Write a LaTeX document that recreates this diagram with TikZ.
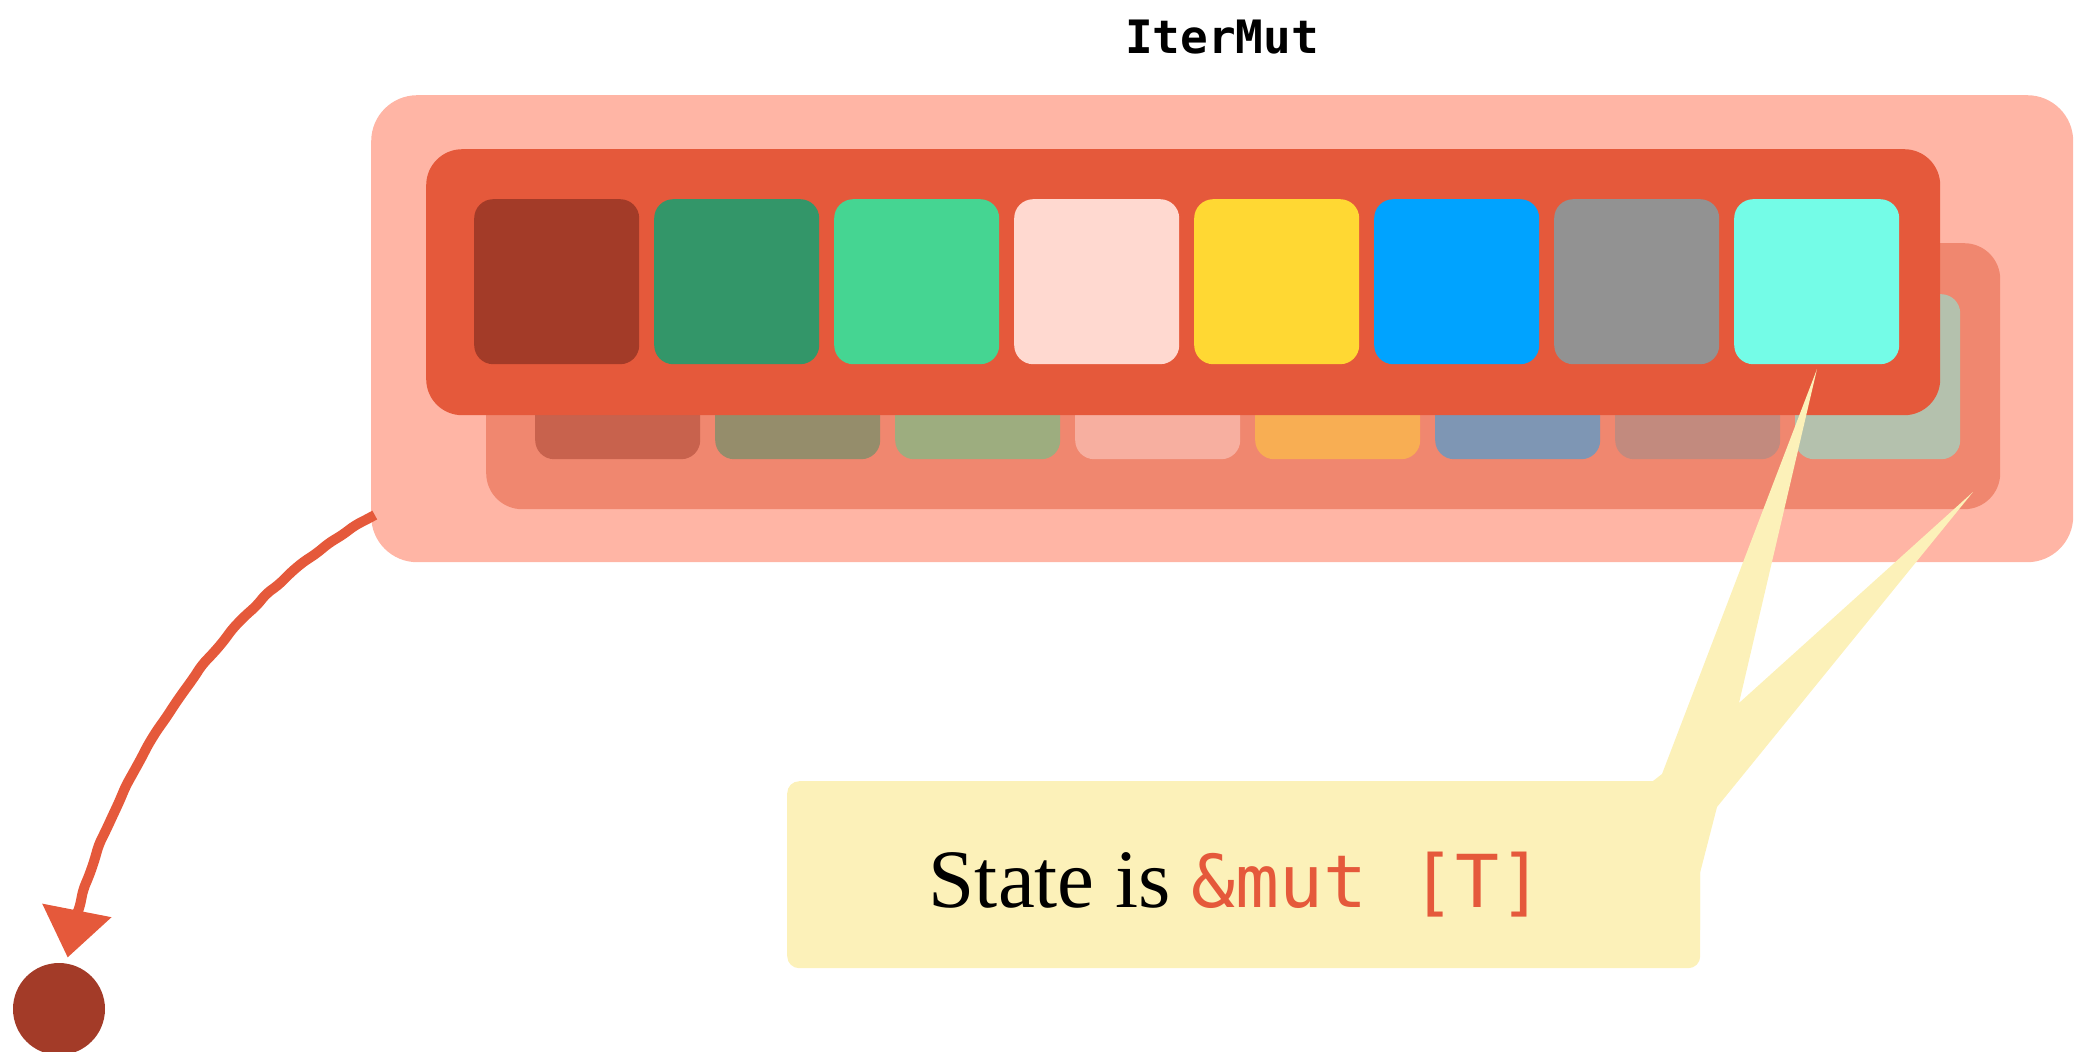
\documentclass[tikz,border=0pt]{standalone}
\usepackage{fontspec}
\setmainfont{Liberation Serif}
\setmonofont{DejaVu Sans Mono}
\usetikzlibrary{arrows.meta,decorations.pathmorphing}

\definecolor{outerbox}{HTML}{FFB5A5}
\definecolor{frontbox}{HTML}{E5593B}
\definecolor{backbox}{HTML}{F0876F}
\definecolor{notebg}{HTML}{FCF1B9}
\definecolor{blobred}{HTML}{A33B28}
% front row cells
\definecolor{fa}{HTML}{A33B28}
\definecolor{fb}{HTML}{339669}
\definecolor{fc}{HTML}{45D592}
\definecolor{fd}{HTML}{FFD9D0}
\definecolor{fe}{HTML}{FFD833}
\definecolor{ff}{HTML}{00A3FF}
\definecolor{fg}{HTML}{929292}
\definecolor{fh}{HTML}{74FCE7}
% back row cells (faded)
\definecolor{ba}{HTML}{C8624D}
\definecolor{bb}{HTML}{958D6B}
\definecolor{bc}{HTML}{9DAD7F}
\definecolor{bd}{HTML}{F7AFA0}
\definecolor{be}{HTML}{F8AE53}
\definecolor{bf}{HTML}{7E96B4}
\definecolor{bg}{HTML}{C28A7E}
\definecolor{bh}{HTML}{B4C1AD}

\begin{document}
\begin{tikzpicture}[x=1pt,y=-1pt,
  box/.style={rectangle, anchor=north west, inner sep=0pt, draw=none},
  slab/.style={box, minimum width=1514pt, minimum height=266pt, rounded corners=36pt},
  cell/.style={box, minimum width=165pt, minimum height=165pt, rounded corners=19pt},
  sketchy/.style={decorate, decoration={random steps, segment length=16pt,
    amplitude=1pt, pre length=4pt, post length=34pt}, rounded corners=6pt},
  link/.style={frontbox, line width=10pt, line cap=round, sketchy,
    -{Triangle[length=48pt,width=68pt]}, shorten >=6pt}]
\useasboundingbox (0,0) rectangle (2075,1052);

% title
\node[font=\ttfamily\bfseries\fontsize{46}{50}\selectfont, anchor=base, inner sep=0pt]
  (title) at (1222,53) {IterMut};

% container
\node[box, fill=outerbox, minimum width=1702pt, minimum height=467pt, rounded corners=46pt]
  (outer) at (371,95) {};

% back slice
\node[slab, fill=backbox] (back) at (486,243) {};
\foreach \c [count=\i from 0] in {ba,bb,bc,bd,be,bf,bg,bh}
  \node[cell, fill=\c] (b\i) at (535+180*\i,294) {};

% front slice
\node[slab, fill=frontbox] (front) at (426,149) {};
\foreach \c [count=\i from 0] in {fa,fb,fc,fd,fe,ff,fg,fh}
  \node[cell, fill=\c] (f\i) at (474+180*\i,199) {};

% callout pointers
\fill[notebg] (1640,800) -- (1653,781) -- (1662,774) -- (1817,369) -- (1739,703)
  -- (1973,492) -- (1717,807) -- (1700,873) -- (1700,930) -- (1640,930) -- cycle;

% callout
\node[box, fill=notebg, minimum width=913pt, minimum height=187pt, rounded corners=12pt]
  (note) at (787,781) {};
\node[anchor=base, inner sep=0pt, font=\fontsize{83}{90}\selectfont]
  (notetext) at (1236,907)
  {State is {\ttfamily\fontsize{73}{80}\selectfont\color{frontbox}\&mut [T]}};

% pointer to the element
\coordinate (src) at (373,516);
\node[circle, fill=blobred, minimum size=92pt, inner sep=0pt] (dot) at (59,1009) {};
\draw[link] (src) .. controls (220,600) and (95,790) .. (dot);
\end{tikzpicture}
\end{document}
